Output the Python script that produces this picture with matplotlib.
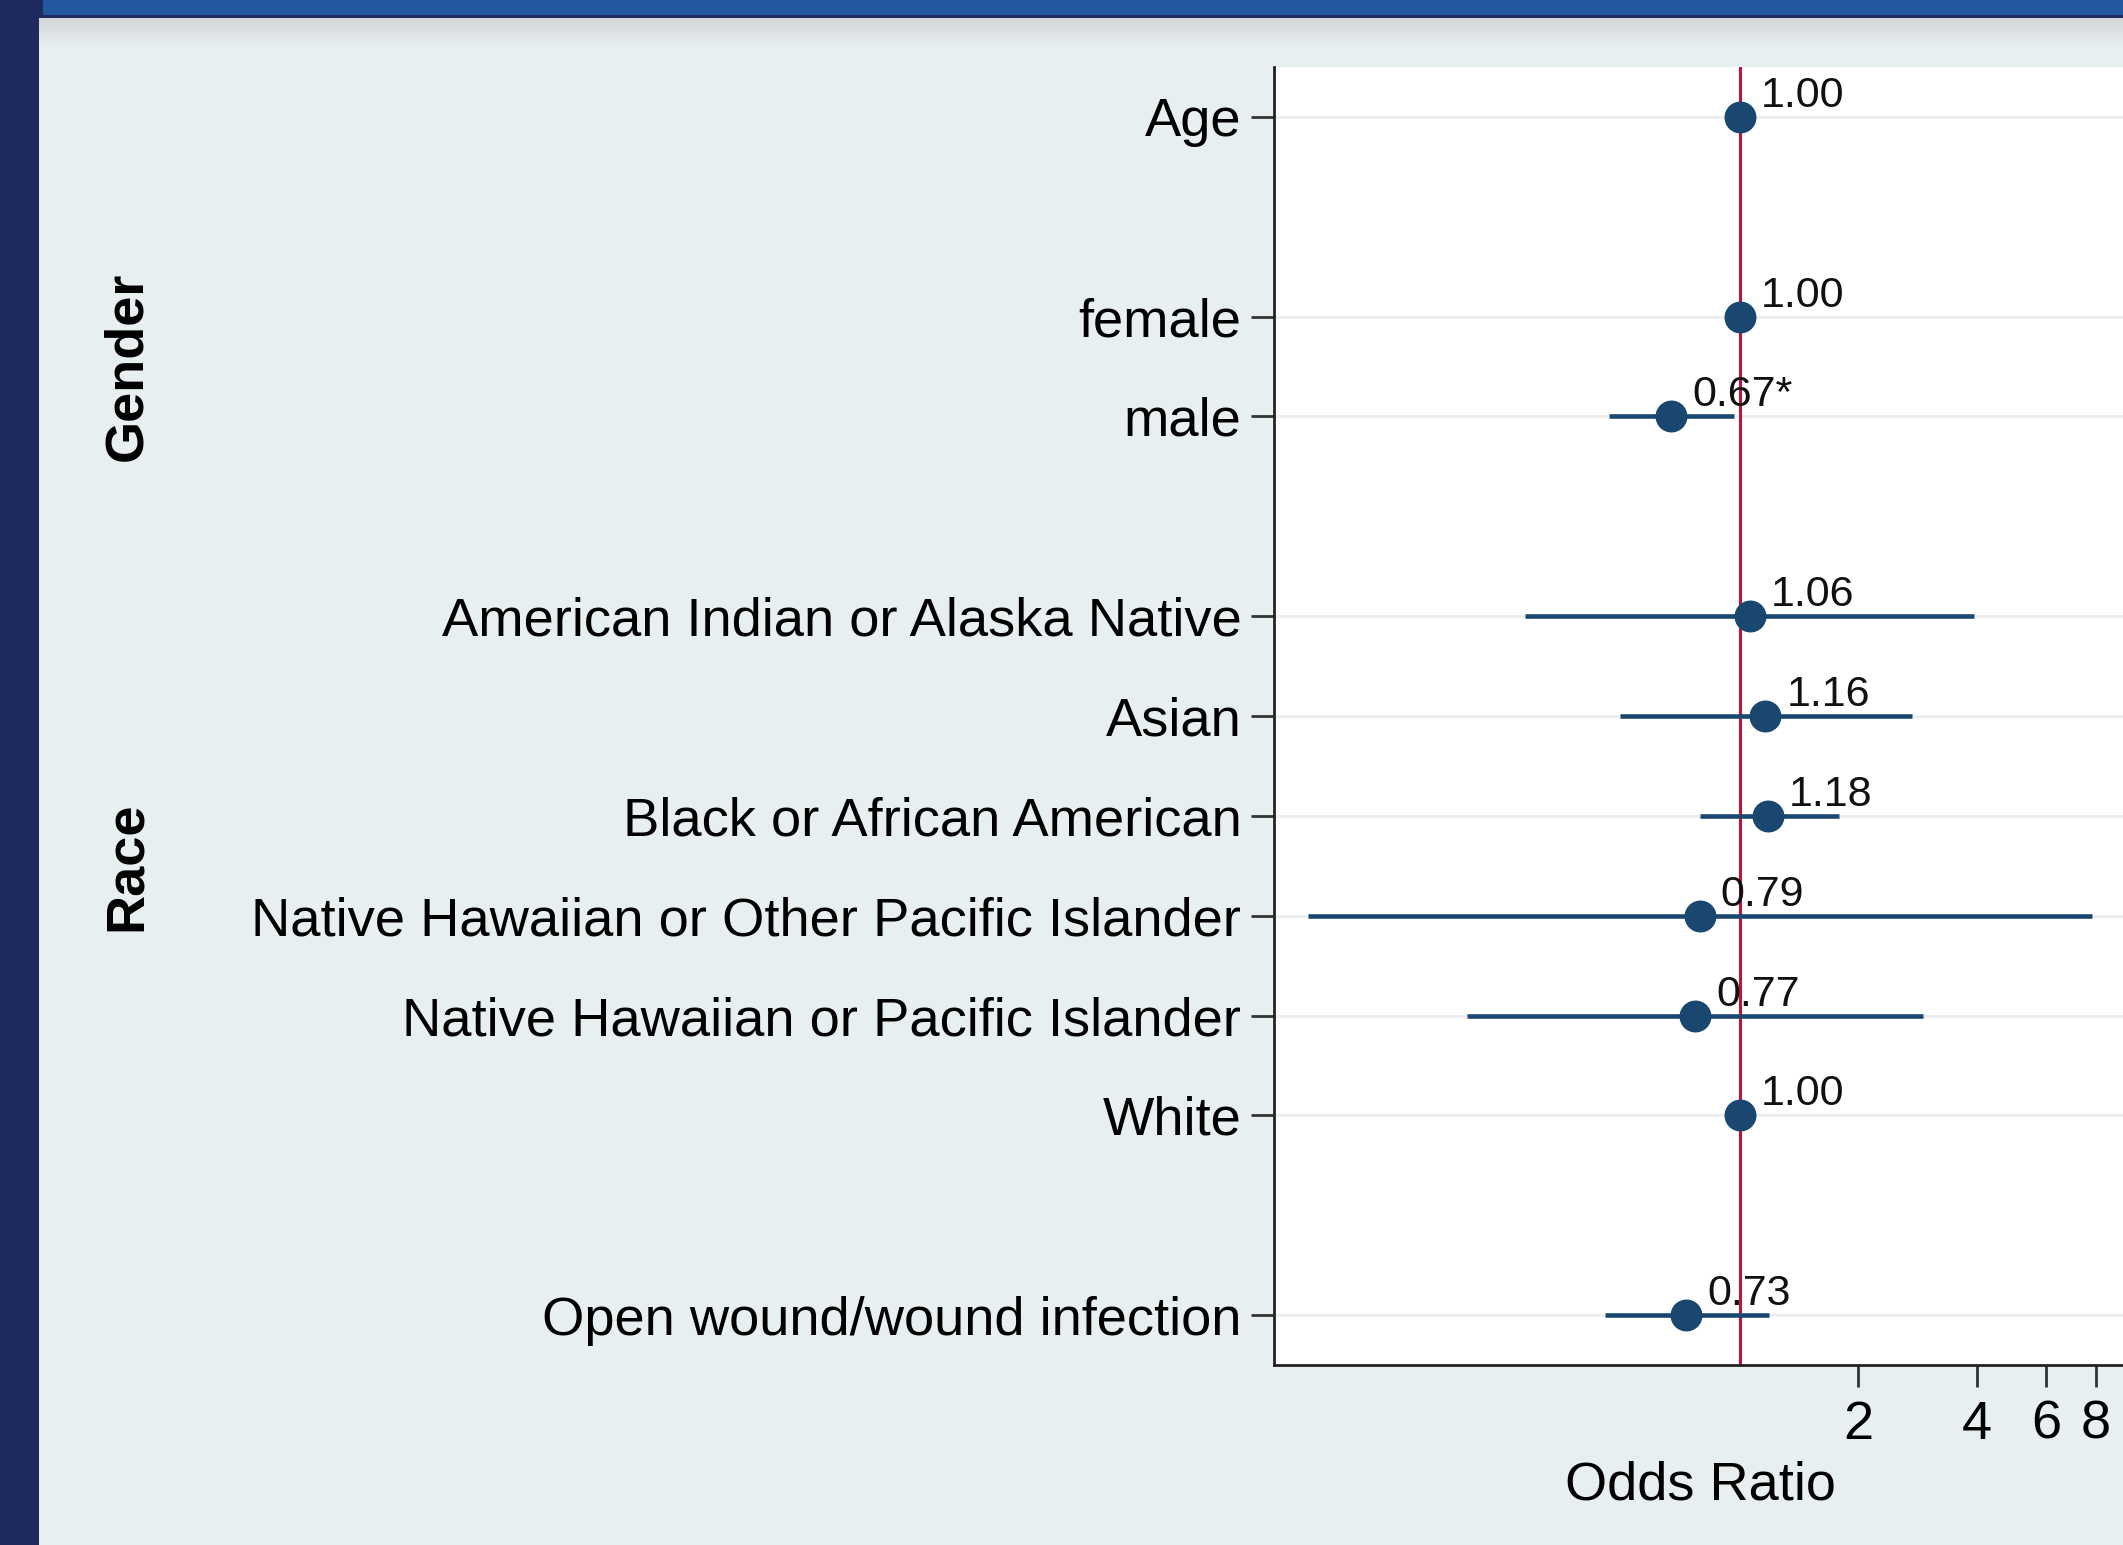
import numpy as np
import matplotlib
matplotlib.use("Agg")
import matplotlib.pyplot as plt
from matplotlib.patches import Rectangle
from matplotlib.transforms import blended_transform_factory

plt.rcParams["font.family"] = ["Liberation Sans", "DejaVu Sans"]

# ---------------- data ----------------
labels = [
    "Age",
    "female",
    "male",
    "American Indian or Alaska Native",
    "Asian",
    "Black or African American",
    "Native Hawaiian or Other Pacific Islander",
    "Native Hawaiian or Pacific Islander",
    "White",
    "Open wound/wound infection",
]
rows = [0, 2, 3, 5, 6, 7, 8, 9, 10, 12]
odds = [1.00, 1.00, 0.67, 1.06, 1.16, 1.18, 0.79, 0.77, 1.00, 0.73]
ci_low = [1.00, 1.00, 0.465, 0.285, 0.497, 0.79, 0.080, 0.203, 1.00, 0.454]
ci_high = [1.00, 1.00, 0.966, 3.94, 2.74, 1.78, 7.84, 2.92, 1.00, 1.185]
stars = ["", "", "*", "", "", "", "", "", "", ""]

groups = ["Gender", "Race"]
group_rows = [(2, 3), (5, 10)]

xticks = [2, 4, 6, 8]

# ---------------- colours ----------------
slide_bg = "#E8EFF1"
navy = "#1F2B5E"
blue_bar = "#2357A0"
marker_col = "#1A476F"
ref_red = "#C0143C"
grid_col = "#ECEEEF"

W, H = 2123, 1545
fig = plt.figure(figsize=(W / 100, H / 100), dpi=100)
fig.patch.set_facecolor(slide_bg)

# slide frame: left band, top bar, shadow under the bar
fig.add_artist(Rectangle((0, 0), 39 / W, 1, transform=fig.transFigure,
                         facecolor=navy, edgecolor="none", zorder=0))
fig.add_artist(Rectangle((0, 1 - 18 / H), 1, 18 / H, transform=fig.transFigure,
                         facecolor=navy, edgecolor="none", zorder=0))
fig.add_artist(Rectangle((43 / W, 1 - 15 / H), 1, 15 / H, transform=fig.transFigure,
                         facecolor=blue_bar, edgecolor="none", zorder=0))
shade = fig.add_axes([39 / W, 1 - 48 / H, 1 - 39 / W, 30 / H], zorder=-1)
grad = np.linspace(0, 1, 64).reshape(-1, 1)
shade.imshow(grad, aspect="auto", cmap=matplotlib.colors.LinearSegmentedColormap.from_list(
    "shade", ["#D1D6D9", slide_bg]), extent=[0, 1, 0, 1], origin="upper")
shade.axis("off")

# ---------------- forest plot ----------------
left, right, top, bottom = 1274, 2126, 67, 1365
ax = fig.add_axes([left / W, 1 - bottom / H, (right - left) / W, (bottom - top) / H])
ax.set_facecolor("white")
ax.set_xscale("log")
ax.set_xlim(0.0656, 9.56)
ax.set_ylim(12.5, -0.5)

for r in rows:
    ax.axhline(r, color=grid_col, lw=2.2, zorder=0)

ax.axvline(1, color=ref_red, lw=2.2, zorder=2)

ax.hlines(rows, ci_low, ci_high, color=marker_col, lw=3.3, zorder=3)
ax.plot(odds, rows, "o", color=marker_col, ms=22, zorder=4)

for o, r, s in zip(odds, rows, stars):
    ax.annotate(f"{o:.2f}{s}", (o, r), xytext=(21, 21), textcoords="offset pixels",
                ha="left", va="center", fontsize=31, color="#111111", zorder=5)

ax.set_yticks(rows)
ax.set_yticklabels(labels, fontsize=39.2)
ax.set_xticks(xticks)
ax.set_xticklabels([str(t) for t in xticks], fontsize=39)
ax.xaxis.set_minor_locator(matplotlib.ticker.NullLocator())
ax.tick_params(axis="y", length=16.5, width=2, color="#333333", pad=7)
ax.tick_params(axis="x", length=16, width=2, color="#333333", pad=9)
ax.set_xlabel("Odds Ratio", fontsize=39, labelpad=8)

for side in ["top", "right"]:
    ax.spines[side].set_visible(False)
for side in ["left", "bottom"]:
    ax.spines[side].set_linewidth(2)
    ax.spines[side].set_color("#222222")

# group titles to the left of the labels
trans = blended_transform_factory(fig.transFigure, ax.transData)
for g, (r0, r1) in zip(groups, group_rows):
    ax.text(127 / W, (r0 + r1) / 2, g, transform=trans, rotation=90,
            ha="center", va="center", fontsize=39, fontweight="bold")

fig.savefig("out.png", dpi=100, facecolor=fig.get_facecolor())
